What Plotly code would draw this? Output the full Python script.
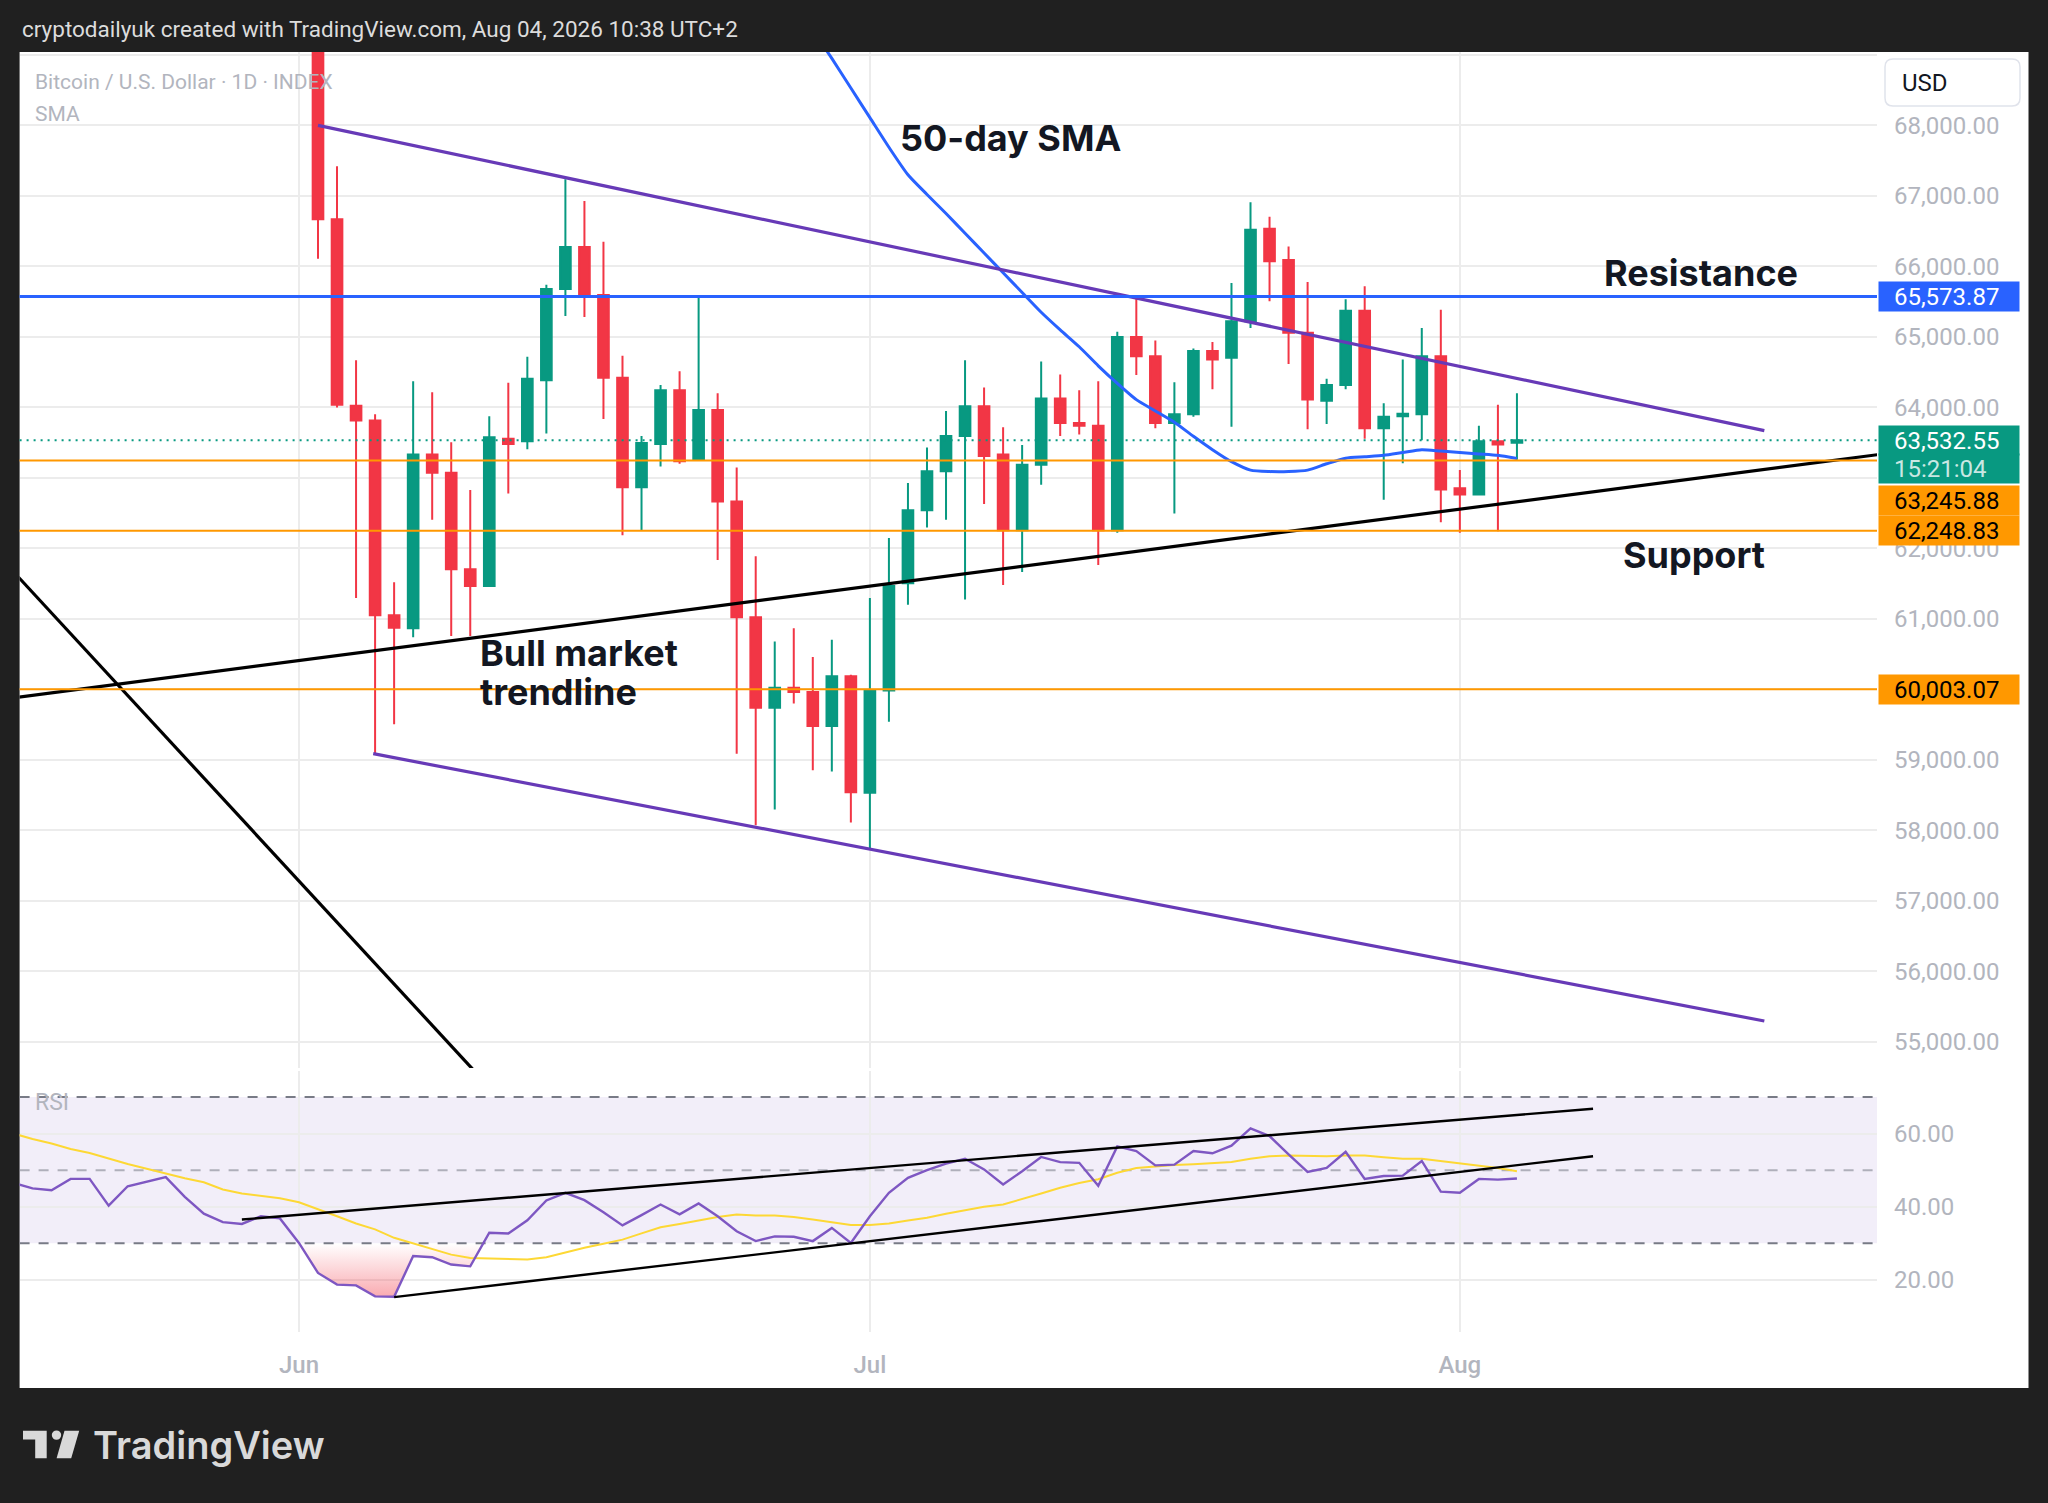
import plotly.graph_objects as go
import pandas as pd

W, H = 2048, 1503

# ---------------- data ----------------
candle_start = "2026-06-02"
opens = [69900, 66667, 64022, 63815, 61052, 60867, 63333, 63074, 61704, 61467,
         63556, 63519, 64385, 65681, 66274, 65593, 64422, 62867, 63481, 64244,
         63259, 63963, 62667, 61022, 59741, 60022, 59963, 59481, 60185, 58533,
         59985, 61504, 62541, 63096, 63593, 64015, 63333, 62259, 63185, 64126,
         63778, 63741, 62259, 65000, 64726, 63778, 63904, 64800, 64704, 65222,
         66533, 66089, 65059, 64096, 64319, 65370, 63704, 63874, 63904, 64726,
         62852, 62763, 63519, 63500]
highs = [70300, 67422, 64667, 63904, 61519, 64370, 64215, 63504, 62830, 63874,
         64348, 64718, 65741, 67237, 66926, 66348, 64733, 63593, 64318, 64511,
         65556, 64200, 63148, 61889, 60681, 60867, 60459, 60704, 60207, 61296,
         62148, 62926, 63430, 63948, 64667, 64281, 63719, 63467, 64652, 64467,
         64244, 64370, 65074, 65556, 64948, 64356, 64837, 64926, 65763, 66911,
         66704, 66281, 65778, 64407, 65533, 65719, 64059, 64681, 65126, 65385,
         63111, 63741, 64037, 64200]
lows = [66110, 64000, 61296, 59089, 59504, 60741, 62407, 60756, 60756, 61467,
        62778, 63407, 63630, 65296, 65282, 63837, 62185, 62259, 63163, 63200,
        63259, 61837, 59089, 58074, 58296, 59800, 58852, 58837, 58111, 57741,
        59541, 61200, 62296, 62407, 61274, 62630, 61481, 61667, 62904, 63593,
        63615, 61763, 62222, 64459, 63704, 62496, 63867, 64259, 63726, 65126,
        65504, 64615, 63689, 63763, 64259, 63556, 62689, 63207, 63533, 62370,
        62222, 62763, 62244, 63259]
closes = [66670, 64037, 63815, 61052, 60874, 63333, 63074, 61704, 61467, 63578,
          63481, 64407, 65681, 66274, 65593, 64422, 62867, 63496, 64244, 63237,
          63963, 62667, 61022, 59741, 60022, 59963, 59481, 60185, 58541, 59985,
          61467, 62541, 63096, 63593, 64015, 63311, 62259, 63185, 64126, 63778,
          63741, 62259, 65000, 64726, 63778, 63904, 64800, 64681, 65222, 66519,
          66074, 65059, 64111, 64319, 65370, 63704, 63867, 63911, 64726, 62837,
          62763, 63519, 63474, 63532.55]

sma_start = "2026-06-28"
sma50 = [69350, 68950, 68530, 68110, 67690, 67300, 67020, 66750, 66470, 66190,
         65910, 65630, 65350, 65100, 64860, 64590, 64340, 64110, 63950, 63790,
         63590, 63400, 63230, 63110, 63090, 63090, 63110, 63200, 63280, 63300,
         63320, 63360, 63400, 63380, 63360, 63340, 63320, 63274]

rsi_start = "2026-05-17"
rsi = [46.5, 45.0, 44.5, 47.6, 47.6, 40.3, 45.6, 46.8, 48.1, 42.7,
       38.1, 35.8, 35.3, 37.4, 36.8, 30.1, 21.9, 18.7, 18.5, 15.5,
       15.4, 26.5, 26.2, 24.2, 23.7, 32.9, 32.7, 36.3, 41.7, 43.8,
       41.8, 38.5, 34.9, 37.7, 40.6, 37.9, 40.9, 37.4, 33.3, 30.6,
       31.9, 31.8, 30.6, 34.2, 30.1, 37.4, 43.8, 47.9, 50.0, 51.8,
       53.1, 50.2, 46.1, 49.7, 53.6, 52.2, 52.0, 45.7, 56.5, 55.2,
       51.3, 51.5, 55.2, 54.6, 56.7, 61.4, 59.3, 54.3, 49.5, 50.6,
       55.0, 47.6, 48.4, 48.5, 52.5, 44.1, 43.8, 47.6, 47.4, 47.7]
rsi_ma = [60.0, 58.5, 57.3, 55.8, 54.7, 53.1, 51.7, 50.4, 49.0, 47.8,
          46.7, 44.7, 43.6, 42.9, 42.3, 41.2, 39.4, 37.4, 35.4, 33.8,
          31.5, 29.9, 28.3, 26.9, 26.0, 25.8, 25.6, 25.6, 26.2, 27.6,
          28.8, 29.9, 31.0, 32.7, 34.4, 35.3, 36.3, 37.2, 37.9, 37.6,
          37.6, 37.2, 36.5, 35.8, 35.0, 35.0, 35.4, 36.2, 37.0, 38.1,
          39.1, 40.0, 40.6, 42.0, 43.6, 45.2, 46.5, 47.5, 49.3, 50.6,
          51.1, 51.4, 51.6, 51.8, 52.2, 53.1, 53.8, 54.0, 53.8, 53.8,
          54.0, 54.0, 53.5, 53.1, 53.1, 52.5, 51.7, 51.3, 50.6, 49.7]

resistance_level = 65573.87
orange_levels = [63245.88, 62248.83, 60003.07]
last_price = 63532.55
countdown = "15:21:04"

price_ticks = list(range(55000, 70000, 1000))
hidden_price_ticks = [60000, 63000, 69000]   # covered by price boxes in the reference
rsi_ticks = [20, 40, 60]
rsi_bands = [30, 50, 70]
month_ticks = ["2026-06-01", "2026-07-01", "2026-08-01"]
month_labels = ["Jun", "Jul", "Aug"]

# hand-drawn lines (date, value)
channel_upper = [("2026-06-02", 68000), ("2026-08-17", 63670)]
channel_lower = [("2026-06-04 21:36", 59089), ("2026-08-17", 55296)]
bull_trend = [("2026-05-16", 59846), ("2026-08-23", 63331)]
steep_line = [("2026-05-17", 61668), ("2026-06-12", 54066)]
rsi_upper = [("2026-05-29", 36.5), ("2026-08-08", 66.8)]
rsi_lower = [("2026-06-06", 15.3), ("2026-08-08", 53.8)]

# ---------------- helpers ----------------
def px(x):
    return x / W


def py(y):
    return 1 - y / H


C_UP, C_DN = "#089981", "#f23645"
GRID = "#ececec"
LABEL = "#b2b5be"
INK = "#131722"
PURPLE = "#673ab7"
BLUE = "#2962ff"
ORANGE = "#ff9800"

candle_dates = pd.date_range(candle_start, periods=len(closes), freq="D")
sma_dates = pd.date_range(sma_start, periods=len(sma50), freq="D")
rsi_dates = pd.date_range(rsi_start, periods=len(rsi), freq="D")

base = pd.Timestamp(candle_start)
x_range = [base - pd.Timedelta(days=15.68), base + pd.Timedelta(days=81.92)]

X0, X1 = px(19.6), px(1877)
PY = [py(1068), py(52)]
RY = [py(1332), py(1071)]

fig = go.Figure()

# price pane
fig.add_trace(go.Candlestick(
    x=candle_dates, open=opens, high=highs, low=lows, close=closes,
    increasing=dict(line=dict(color=C_UP, width=2), fillcolor=C_UP),
    decreasing=dict(line=dict(color=C_DN, width=2), fillcolor=C_DN),
    whiskerwidth=0, xaxis="x", yaxis="y", showlegend=False, hoverinfo="skip"))

fig.add_trace(go.Scatter(x=sma_dates, y=sma50, mode="lines",
                         line=dict(color=BLUE, width=3, shape="spline", smoothing=0.6),
                         xaxis="x", yaxis="y", showlegend=False, hoverinfo="skip"))

for pts, col in [(channel_upper, PURPLE), (channel_lower, PURPLE),
                 (bull_trend, "#000000"), (steep_line, "#000000")]:
    fig.add_trace(go.Scatter(x=[p[0] for p in pts], y=[p[1] for p in pts],
                             mode="lines", line=dict(color=col, width=3.2),
                             xaxis="x", yaxis="y", showlegend=False,
                             hoverinfo="skip"))

# RSI pane: oversold gradient fill
fx, fy = [], []
for i in range(len(rsi)):
    if i > 0:
        a, b = rsi[i - 1], rsi[i]
        if (a - 30) * (b - 30) < 0:
            t = (30 - a) / (b - a)
            fx.append(rsi_dates[i - 1] + t * (rsi_dates[i] - rsi_dates[i - 1]))
            fy.append(30)
    fx.append(rsi_dates[i])
    fy.append(min(rsi[i], 30))

fig.add_trace(go.Scatter(x=fx, y=[30] * len(fx), mode="lines",
                         line=dict(width=0), xaxis="x2", yaxis="y2",
                         showlegend=False, hoverinfo="skip"))
fig.add_trace(go.Scatter(x=fx, y=fy, mode="lines", line=dict(width=0),
                         fill="tonexty",
                         fillgradient=dict(type="vertical", start=min(fy), stop=30,
                                           colorscale=[[0, "rgba(242,54,69,0.42)"],
                                                       [1, "rgba(242,54,69,0.0)"]]),
                         xaxis="x2", yaxis="y2", showlegend=False,
                         hoverinfo="skip"))

fig.add_trace(go.Scatter(x=rsi_dates, y=rsi_ma, mode="lines",
                         line=dict(color="#fdd835", width=2),
                         xaxis="x2", yaxis="y2", showlegend=False,
                         hoverinfo="skip"))
fig.add_trace(go.Scatter(x=rsi_dates, y=rsi, mode="lines",
                         line=dict(color="#7e57c2", width=2.4),
                         xaxis="x2", yaxis="y2", showlegend=False,
                         hoverinfo="skip"))
for pts in [rsi_upper, rsi_lower]:
    fig.add_trace(go.Scatter(x=[p[0] for p in pts], y=[p[1] for p in pts],
                             mode="lines", line=dict(color="#000000", width=2.4),
                             xaxis="x2", yaxis="y2", showlegend=False,
                             hoverinfo="skip"))

# ---------------- shapes ----------------
shapes = []
shapes.append(dict(type="rect", xref="paper", yref="paper",
                   x0=px(19.6), x1=px(2028.5), y0=py(1388), y1=py(52),
                   fillcolor="#ffffff", line=dict(width=0), layer="below"))
shapes.append(dict(type="rect", xref="x2 domain", yref="y2", x0=0, x1=1,
                   y0=rsi_bands[0], y1=rsi_bands[2],
                   fillcolor="rgba(126,87,194,0.10)", line=dict(width=0),
                   layer="below"))
for lv in rsi_bands:
    col = "rgba(120,123,134,0.55)" if lv == 50 else "#787b86"
    shapes.append(dict(type="line", xref="x2 domain", yref="y2", x0=0, x1=1,
                       y0=lv, y1=lv, line=dict(color=col, width=2,
                                               dash="10px,9px"),
                       layer="below"))
shapes.append(dict(type="line", xref="x domain", yref="y", x0=0, x1=1,
                   y0=resistance_level, y1=resistance_level,
                   line=dict(color=BLUE, width=3)))
for lv in orange_levels:
    shapes.append(dict(type="line", xref="x domain", yref="y", x0=0, x1=1,
                       y0=lv, y1=lv, line=dict(color=ORANGE, width=2)))
shapes.append(dict(type="line", xref="x domain", yref="y", x0=0, x1=1,
                   y0=last_price, y1=last_price,
                   line=dict(color=C_UP, width=2, dash="2px,5px")))
# USD box (rounded)
ux0, ux1, uy0, uy1, r = 1885, 2020, 59, 106, 8
path = (f"M {px(ux0 + r)} {py(uy0)} L {px(ux1 - r)} {py(uy0)} "
        f"Q {px(ux1)} {py(uy0)} {px(ux1)} {py(uy0 + r)} "
        f"L {px(ux1)} {py(uy1 - r)} Q {px(ux1)} {py(uy1)} {px(ux1 - r)} {py(uy1)} "
        f"L {px(ux0 + r)} {py(uy1)} Q {px(ux0)} {py(uy1)} {px(ux0)} {py(uy1 - r)} "
        f"L {px(ux0)} {py(uy0 + r)} Q {px(ux0)} {py(uy0)} {px(ux0 + r)} {py(uy0)} Z")
shapes.append(dict(type="path", xref="paper", yref="paper", path=path,
                   fillcolor="#ffffff", line=dict(color="#e0e3eb", width=1.5)))
# TradingView logo mark
LG = "#d9d9d9"
shapes.append(dict(type="path", xref="paper", yref="paper",
                   path=(f"M {px(23)} {py(1430.7)} L {px(46.7)} {py(1430.7)} "
                         f"L {px(46.7)} {py(1458.3)} L {px(35.2)} {py(1458.3)} "
                         f"L {px(35.2)} {py(1439.5)} L {px(23)} {py(1439.5)} Z"),
                   fillcolor=LG, line=dict(width=0)))
shapes.append(dict(type="circle", xref="paper", yref="paper",
                   x0=px(51.8), x1=px(61.2), y0=py(1439.8), y1=py(1430.4),
                   fillcolor=LG, line=dict(width=0)))
shapes.append(dict(type="path", xref="paper", yref="paper",
                   path=(f"M {px(64.5)} {py(1430.7)} L {px(79.2)} {py(1430.7)} "
                         f"L {px(71.2)} {py(1458.3)} L {px(56.6)} {py(1458.3)} Z"),
                   fillcolor=LG, line=dict(width=0)))

# ---------------- annotations ----------------
ann = []


def txt(x, y, s, size, color, family="Roboto", weight="normal"):
    ann.append(dict(xref="paper", yref="paper", x=px(x), y=py(y), text=s,
                    showarrow=False, xanchor="left", yanchor="middle",
                    font=dict(family=family, size=size, color=color,
                              weight=weight)))


txt(20, 29, "cryptodailyuk created with TradingView.com, Aug 04, 2026 10:38 UTC+2",
    22.5, "#dcdcdc")
txt(33, 82, "Bitcoin / U.S. Dollar · 1D · INDEX", 21, LABEL)
txt(33, 114, "SMA", 21, LABEL)
txt(1900, 83, "USD", 24, INK)
txt(33, 1102, "RSI", 23, LABEL)
txt(898, 138, "50-day SMA", 36, INK, "Inter", "bold")
txt(1602, 273, "Resistance", 36, INK, "Inter", "bold")
txt(1621, 555, "Support", 36, INK, "Inter", "bold")
txt(478, 653, "Bull market", 36, INK, "Inter", "bold")
txt(478, 692, "trendline", 36, INK, "Inter", "bold")
txt(91, 1445, "TradingView", 38, LG, "Inter", 600)


def price_box(value, label, bg, fg, yshift=0):
    ann.append(dict(xref="paper", yref="y", x=px(1878), y=value,
                    xanchor="left", yanchor="middle",
                    text="&nbsp;&nbsp;" + label, showarrow=False,
                    font=dict(family="Roboto", size=24, color=fg),
                    bgcolor=bg, width=134, height=23, borderpad=3,
                    align="left", yshift=yshift))


price_box(resistance_level, f"{resistance_level:,.2f}", BLUE, "#ffffff")
price_box(last_price, f"{last_price:,.2f}", C_UP, "#ffffff")
price_box(last_price, countdown, C_UP, "rgba(255,255,255,0.8)", yshift=-28)
price_box(orange_levels[0], f"{orange_levels[0]:,.2f}", ORANGE, "#000000", yshift=-39.6)
price_box(orange_levels[1], f"{orange_levels[1]:,.2f}", ORANGE, "#000000")
price_box(orange_levels[2], f"{orange_levels[2]:,.2f}", ORANGE, "#000000")

fig.update_layout(
    width=W, height=H, margin=dict(l=0, r=0, t=0, b=0),
    paper_bgcolor="#202020", plot_bgcolor="rgba(0,0,0,0)",
    boxgap=0.2, showlegend=False, hovermode=False,
    shapes=shapes, annotations=ann,
    xaxis=dict(domain=[X0, X1], anchor="y", type="date", range=x_range,
               tickvals=month_ticks, showticklabels=False, showgrid=True,
               gridcolor=GRID, gridwidth=2, zeroline=False, showline=False,
               rangeslider=dict(visible=False), fixedrange=True),
    yaxis=dict(domain=PY, anchor="x", side="right", range=[54630, 69041],
               tickvals=price_ticks,
               ticktext=["" if v in hidden_price_ticks else f"{v:,.2f}"
                         for v in price_ticks],
               tickfont=dict(family="Roboto", size=24, color=LABEL),
               ticks="", ticklabelstandoff=16, showgrid=True, gridcolor=GRID,
               gridwidth=2, zeroline=False, showline=False, fixedrange=True),
    xaxis2=dict(domain=[X0, X1], anchor="y2", type="date", matches="x",
                tickvals=month_ticks, ticktext=month_labels,
                tickfont=dict(family="Roboto", size=24, color=LABEL, weight=500),
                ticks="", ticklabelstandoff=16, showgrid=True, gridcolor=GRID,
                gridwidth=2, zeroline=False, showline=False, fixedrange=True),
    yaxis2=dict(domain=RY, anchor="x2", side="right", range=[5.75, 77.1],
                tickvals=rsi_ticks, ticktext=[f"{v:.2f}" for v in rsi_ticks],
                tickfont=dict(family="Roboto", size=24, color=LABEL),
                ticks="", ticklabelstandoff=16, showgrid=True, gridcolor=GRID,
                gridwidth=2, zeroline=False, showline=False, fixedrange=True),
)

fig.write_html("out.html", config={"displayModeBar": False},
               post_script="document.body.style.margin='0';document.body.style.overflow='hidden';")
